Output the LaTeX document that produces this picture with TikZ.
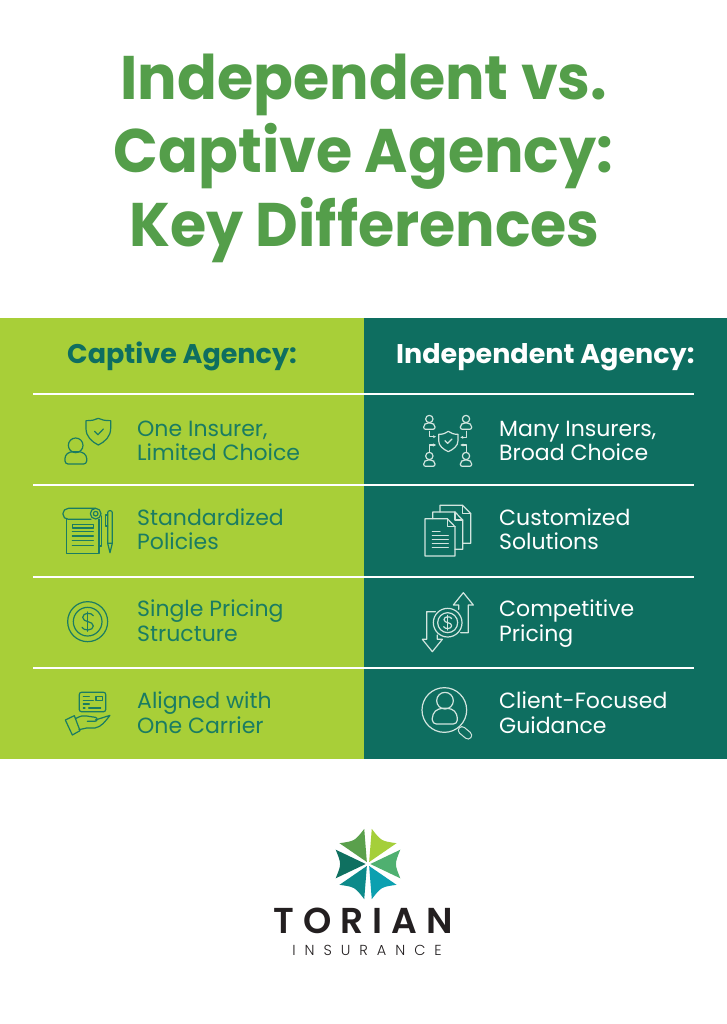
\documentclass[tikz,border=0pt]{standalone}
\usepackage{fontspec}
\usetikzlibrary{arrows.meta}
\setmainfont{Poppins}
\newfontfamily\titlefont{Poppins}[UprightFont=* Bold, FakeStretch=0.955]
\newfontfamily\headfont{Poppins}[UprightFont=* Bold, FakeStretch=1.0]
\newfontfamily\bodyfont{Poppins}[UprightFont=* Regular]
\newfontfamily\logofont{Poppins}[UprightFont=* SemiBold, LetterSpace=25]
\newfontfamily\subfont{Poppins}[UprightFont=* Light, LetterSpace=62]
\definecolor{titlegreen}{HTML}{549E4A}
\definecolor{lime}{HTML}{A8CF38}
\definecolor{teal}{HTML}{0E6E60}
\definecolor{leftink}{HTML}{1A7C62}
\definecolor{rightink}{HTML}{D2E5DF}
\definecolor{logoA}{HTML}{4FB070}
\definecolor{logoB}{HTML}{A5CF3A}
\definecolor{logoC}{HTML}{5AA04C}
\definecolor{logoD}{HTML}{0F7060}
\definecolor{logoE}{HTML}{0D8A8A}
\definecolor{logoF}{HTML}{0CA0B0}
\definecolor{logoink}{HTML}{231F20}
\tikzset{
  px/.style={x=1pt,y=-1pt},
  titletext/.style={font=\titlefont\fontsize{61.5}{64}\selectfont,text=titlegreen,inner sep=0pt,anchor=base},
  headtext/.style={font=\headfont\fontsize{27}{27}\selectfont,inner sep=0pt,anchor=base west},
  rowtext/.style={font=\bodyfont\fontsize{22}{24.5}\selectfont,inner sep=0pt,anchor=base west,align=left},
  rule/.style={draw=white,line width=1.6pt},
  ic/.style={line width=1.2pt,line join=round,line cap=round},
  zoomed/.style={shift={#1},scale=1/3},
}
\newcommand{\petalat}[2]{%
  \fill[#2,rotate around={#1:(368,864)}] (370.3,864) -- (400.3,849.7) .. controls (394.5,864) .. (400.3,878.3) -- cycle;}
\begin{document}
\begin{tikzpicture}[px]
\useasboundingbox (0,0) rectangle (727,1024);
\fill[white] (0,0) rectangle (727,1024);
\node[titletext] (t1) at (364,99.5) {Independent vs.};
\node[titletext] (t2) at (363.5,173) {Captive Agency:};
\node[titletext] (t3) at (364.5,246.7) {Key Differences};
\fill[lime] (0,318) rectangle (364,759);
\fill[teal] (364,318) rectangle (727,759);
\node[headtext,text=teal] (hl) at (67,363) {Captive Agency:};
\node[headtext,text=white] (hr) at (396,363) {Independent Agency:};
\foreach \y in {394,485,577,668} \draw[rule] (33,\y) -- (694,\y);
% texts
\node[rowtext,text=leftink] (l1) at (137,460.5) {One Insurer,\\Limited Choice};
\node[rowtext,text=leftink] (l2) at (137,549.5) {Standardized\\Policies};
\node[rowtext,text=leftink] (l3) at (137,641) {Single Pricing\\Structure};
\node[rowtext,text=leftink] (l4) at (137,733) {Aligned with\\One Carrier};
\node[rowtext,text=white] (r1) at (499,460.5) {Many Insurers,\\Broad Choice};
\node[rowtext,text=white] (r2) at (499,549.5) {Customized\\Solutions};
\node[rowtext,text=white] (r3) at (499,641) {Competitive\\Pricing};
\node[rowtext,text=white] (r4) at (499,733) {Client-Focused\\Guidance};
% left icons 1,2
\begin{scope}[zoomed={(30,390)},draw=leftink,ic]
\draw (168,92) .. controls (185,92) and (195,90) .. (205,85) .. controls (215,90) and (225,92) .. (242,92) -- (242,115) .. controls (242,140) and (225,155) .. (205,165) .. controls (185,155) and (168,140) .. (168,115) -- cycle;
\draw (194,124) -- (204,134) -- (220,117);
\draw (137,166) circle (22);
\draw[rounded corners=3pt] (105,222) -- (105,196) -- (120,185) -- (154,185) -- (170,196) -- (170,222) -- cycle;
\draw (207,388) -- (207,490) -- (110,490) -- (110,388);
\draw (197,355) -- (115,355) arc (270:90:16.5) -- (183,388);
\draw (215,378) -- (215,468) -- (207,468);
\draw (197,371) circle (16);
\draw (197,371) circle (7);
\draw (128,403) rectangle (190,414);
\foreach \y in {425,438,452,466} \draw (127,\y) -- (190,\y);
\draw[rounded corners=2pt] (233,460) -- (233,362) -- (247,362) -- (247,460);
\draw (233,460) -- (240,488) -- (247,460) -- cycle;
\draw (233,375) -- (226,375) -- (226,408) -- (233,408);
\end{scope}
% left icons 3,4
\begin{scope}[zoomed={(30,580)},draw=leftink,ic]
\draw (173,125) circle (60);
\draw (173,125) circle (43);
\draw (190,107) .. controls (185,97) and (158,97) .. (158,112) .. controls (158,128) and (190,122) .. (190,138) .. controls (190,153) and (160,153) .. (156,142);
\draw (173,96) -- (173,154);
\draw[rounded corners=2pt] (148,337) rectangle (227,395);
\draw (160,350) -- (178,350) (160,361) -- (190,361) (160,372) -- (178,372);
\draw (198,350) rectangle (218,362);
\draw (160,384) -- (165,384) (176,384) -- (212,384);
\draw (106,420) -- (133,407) -- (150,452) -- (127,465) -- cycle;
\draw (136,416) .. controls (150,408) and (160,406) .. (170,408) -- (196,412) .. controls (204,414) and (203,424) .. (194,424) -- (172,424);
\draw (196,420) -- (240,406) .. controls (225,425) and (215,440) .. (195,444) -- (170,444) -- (147,449);
\end{scope}
% right icons 1,2
\begin{scope}[zoomed={(400,390)},draw=rightink,ic,>={Stealth[length=3pt,width=3pt]}]
\foreach \a/\b in {88/87,198/87,88/198,198/198} {
  \begin{scope}[shift={(\a,\b)}]
  \draw (0,0) circle (11);
  \draw[rounded corners=2pt] (-17,31) -- (-17,18) -- (-9,12) -- (9,12) -- (17,18) -- (17,31) -- cycle;
  \end{scope}}
\draw (116,133) .. controls (128,133) and (138,130) .. (145,124) .. controls (152,130) and (162,133) .. (174,133) -- (174,152) .. controls (174,168) and (160,178) .. (145,185) .. controls (130,178) and (116,168) .. (116,152) -- cycle;
\draw (135,152) -- (143,160) -- (156,147);
\draw[->] (88,124) -- (88,140) -- (108,140);
\draw[->] (199,124) -- (199,142) -- (181,142);
\draw[->] (88,185) -- (88,165) -- (108,165);
\draw[->] (199,185) -- (199,165) -- (181,165);
\draw (120,366) -- (120,346) -- (188,346) -- (212,370) -- (212,460) -- (188,460);
\draw (188,346) -- (188,370) -- (212,370);
\draw (98,386) -- (98,366) -- (165,366) -- (188,390) -- (188,478) -- (165,478);
\draw (165,366) -- (165,390) -- (188,390);
\draw (75,386) -- (142,386) -- (165,410) -- (165,498) -- (75,498) -- cycle;
\draw (142,386) -- (142,410) -- (165,410);
\draw (97,425) -- (120,425);
\foreach \y in {437,449,461,473} \draw (97,\y) -- (145,\y);
\end{scope}
% right icons 3,4
\begin{scope}[zoomed={(400,580)},draw=rightink,ic]
\draw (176,88) -- (176,75) -- (160,75) -- (190,38) -- (220,75) -- (205,75) -- (205,158) -- (182,158);
\draw (106,95) -- (80,95) -- (80,178) -- (67,178) -- (97,215) -- (127,178) -- (112,178) -- (112,165);
\draw (143,128) circle (43);
\draw (143,128) circle (30);
\draw (155,116) .. controls (152,108) and (132,108) .. (132,119) .. controls (132,130) and (155,126) .. (155,137) .. controls (155,148) and (134,148) .. (131,140);
\draw (143,106) -- (143,150);
\draw[line width=8.5pt] (186,451) -- (204,466);
\draw[line width=6.1pt,draw=teal] (186,451) -- (204,466);
\fill[teal] (133,390) circle (66);
\draw (133,390) circle (67);
\draw (135,362) circle (25);
\draw[rounded corners=4pt] (97,432) -- (97,402) -- (115,385) -- (155,385) -- (172,402) -- (172,432) -- cycle;
\end{scope}
% logo
\petalat{0}{logoA}
\petalat{60}{logoB}
\petalat{120}{logoC}
\petalat{180}{logoD}
\petalat{240}{logoE}
\petalat{300}{logoF}
\node[font=\logofont\fontsize{36}{36}\selectfont,text=logoink,inner sep=0pt,anchor=base,text depth=0pt] (brand) at (363.5,933) {TORIAN};
\node[font=\subfont\fontsize{14.5}{15}\selectfont,text=logoink,inner sep=0pt,anchor=base,text height=11pt,text depth=0pt] (sub) at (367,955) {INSURANCE};
\end{tikzpicture}
\end{document}
